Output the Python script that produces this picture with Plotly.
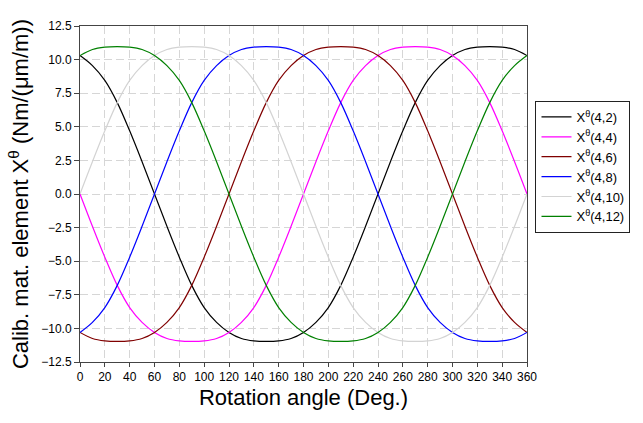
import plotly.graph_objects as go

angles = list(range(0, 361, 10))

x42 = [10.3, 9.55, 8.45, 6.8, 4.7, 2.4, 0.0, -2.4, -4.7, -6.8, -8.45, -9.55, -10.3, -10.75, -10.93, -10.97,
       -10.93, -10.75, -10.3, -9.55, -8.45, -6.8, -4.7, -2.4, 0.0, 2.4, 4.7, 6.8, 8.45, 9.55, 10.3, 10.75,
       10.93, 10.97, 10.93, 10.75, 10.3]
x44 = [0.0, -2.4, -4.7, -6.8, -8.45, -9.55, -10.3, -10.75, -10.93, -10.97, -10.93, -10.75, -10.3, -9.55,
       -8.45, -6.8, -4.7, -2.4, 0.0, 2.4, 4.7, 6.8, 8.45, 9.55, 10.3, 10.75, 10.93, 10.97, 10.93, 10.75,
       10.3, 9.55, 8.45, 6.8, 4.7, 2.4, 0.0]
x46 = [-10.3, -10.75, -10.93, -10.97, -10.93, -10.75, -10.3, -9.55, -8.45, -6.8, -4.7, -2.4, 0.0, 2.4,
       4.7, 6.8, 8.45, 9.55, 10.3, 10.75, 10.93, 10.97, 10.93, 10.75, 10.3, 9.55, 8.45, 6.8, 4.7, 2.4,
       0.0, -2.4, -4.7, -6.8, -8.45, -9.55, -10.3]
x48 = [-10.3, -9.55, -8.45, -6.8, -4.7, -2.4, 0.0, 2.4, 4.7, 6.8, 8.45, 9.55, 10.3, 10.75, 10.93, 10.97,
       10.93, 10.75, 10.3, 9.55, 8.45, 6.8, 4.7, 2.4, 0.0, -2.4, -4.7, -6.8, -8.45, -9.55, -10.3, -10.75,
       -10.93, -10.97, -10.93, -10.75, -10.3]
x410 = [0.0, 2.4, 4.7, 6.8, 8.45, 9.55, 10.3, 10.75, 10.93, 10.97, 10.93, 10.75, 10.3, 9.55, 8.45, 6.8,
        4.7, 2.4, 0.0, -2.4, -4.7, -6.8, -8.45, -9.55, -10.3, -10.75, -10.93, -10.97, -10.93, -10.75,
        -10.3, -9.55, -8.45, -6.8, -4.7, -2.4, 0.0]
x412 = [10.3, 10.75, 10.93, 10.97, 10.93, 10.75, 10.3, 9.55, 8.45, 6.8, 4.7, 2.4, 0.0, -2.4, -4.7, -6.8,
        -8.45, -9.55, -10.3, -10.75, -10.93, -10.97, -10.93, -10.75, -10.3, -9.55, -8.45, -6.8, -4.7,
        -2.4, 0.0, 2.4, 4.7, 6.8, 8.45, 9.55, 10.3]

series = [
    ("X<sup>θ</sup>(4,2)", x42, "#000000"),
    ("X<sup>θ</sup>(4,4)", x44, "#ff00ff"),
    ("X<sup>θ</sup>(4,6)", x46, "#800000"),
    ("X<sup>θ</sup>(4,8)", x48, "#0000ff"),
    ("X<sup>θ</sup>(4,10)", x410, "#d3d3d3"),
    ("X<sup>θ</sup>(4,12)", x412, "#008000"),
]

fig = go.Figure()
for name, vals, col in series:
    fig.add_trace(go.Scatter(x=angles, y=vals, name=name, mode="lines",
                             line=dict(color=col, width=1.2, shape="spline", smoothing=1.0)))

font_family = "Liberation Sans, Arial, sans-serif"

fig.update_layout(
    width=643, height=423,
    margin=dict(l=80, r=97, t=26, b=61),
    paper_bgcolor="white", plot_bgcolor="white",
    font=dict(family=font_family, color="black", size=13),
    legend=dict(x=1.019, y=0.777, xanchor="left", yanchor="top",
                bordercolor="#222", borderwidth=1, bgcolor="white",
                font=dict(size=13, family=font_family), tracegroupgap=0),
    showlegend=True,
)

fig.update_xaxes(
    range=[0, 360], dtick=20, tick0=0,
    showline=True, linecolor="#444", linewidth=1, mirror=True,
    ticks="outside", ticklen=4, tickcolor="#444",
    showgrid=True, gridcolor="#d6d6d6", griddash="8px,4px", gridwidth=1,
    zeroline=False,
    tickfont=dict(size=12),
    title=dict(text="Rotation angle (Deg.)", font=dict(size=22), standoff=6),
)
fig.update_yaxes(
    range=[-12.5, 12.5], dtick=2.5, tick0=0, tickformat=".1f",
    showline=True, linecolor="#444", linewidth=1, mirror=True,
    ticks="outside", ticklen=5, tickcolor="#444",
    showgrid=True, gridcolor="#d6d6d6", griddash="8px,4px", gridwidth=1,
    zeroline=False,
    tickfont=dict(size=12),
    title=dict(text="Calib. mat. element X<sup>θ</sup> (Nm/(μm/m))", font=dict(size=22), standoff=6),
)

fig.write_html("out.html")
